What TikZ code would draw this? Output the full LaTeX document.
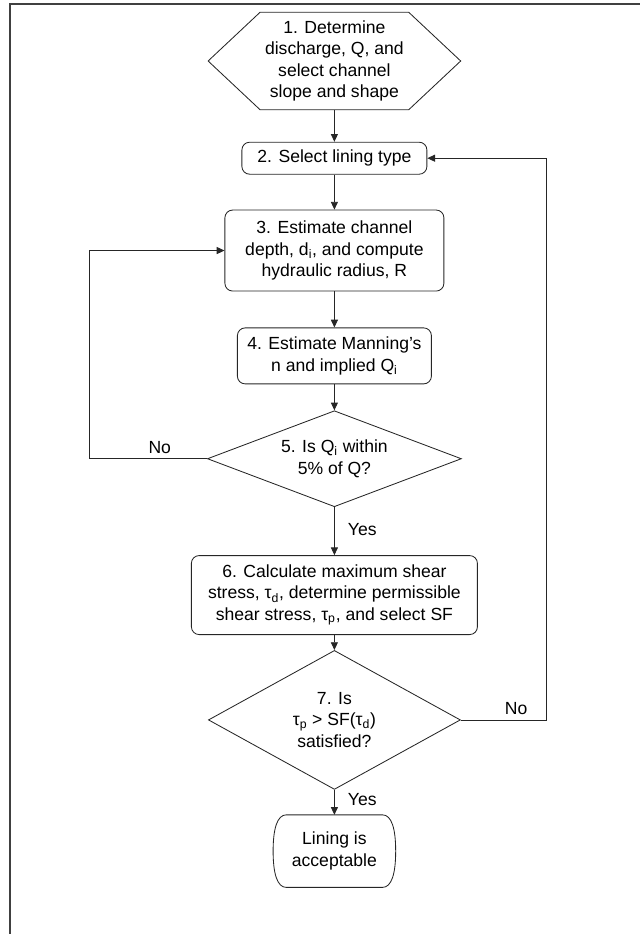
\documentclass[tikz,border=0pt]{standalone}
\usepackage{fontspec}
\setmainfont{Liberation Sans}
\usepackage{tikz}
\usetikzlibrary{positioning,arrows.meta,shapes.geometric,calc}

\begin{document}
\begin{tikzpicture}[
    node distance=0.8cm,
    font=\fontsize{12.5}{15.3}\selectfont,
    line_style/.style={draw=black!85, line width=0.6pt},
    proc_box/.style={line_style, rounded corners=5.5pt, align=center, inner sep=2pt},
    dec_box/.style={line_style, diamond, align=center, inner sep=0pt},
    plain_box/.style={align=center, inner sep=0pt},
    arrow/.style={-{Triangle[length=5.5pt,width=5pt]}, line width=0.6pt, draw=black!85},
    frame_line/.style={line width=1.4pt, draw=black!75}
]

% page frame (top and left edge only)
\useasboundingbox (0,0) rectangle (16,-23.35);
\draw[frame_line] (0.25,-23.35) -- (0.25,-0.1) -- (16,-0.1);

\node (determine) [plain_box, minimum width=6.3cm, minimum height=2.425cm] at (8.36,-1.525)
    {1. Determine\\discharge, Q, and\\select channel\\slope and shape};
\draw[line_style] (determine.west) -- ([xshift=1.3cm]determine.north west)
    -- ([xshift=-1.3cm]determine.north east) -- (determine.east)
    -- ([xshift=-1.3cm]determine.south east) -- ([xshift=1.3cm]determine.south west) -- cycle;

\node (lining) [proc_box, below=0.8cm of determine, minimum width=4.625cm, minimum height=0.8cm]
    {2. Select lining type};

\node (depth) [proc_box, below=0.875cm of lining, minimum width=5.475cm, minimum height=2.025cm]
    {3. Estimate channel\\depth, d\textsubscript{i}, and compute\\hydraulic radius, R};

\node (manning) [proc_box, below=0.9cm of depth, minimum width=4.85cm, minimum height=1.4cm]
    {4. Estimate Manning’s\\n and implied Q\textsubscript{i}};

\node (check_q) [dec_box, aspect=2.65, below=0.65cm of manning, minimum width=6.35cm, minimum height=2.4cm]
    {5. Is Q\textsubscript{i} within\\5\% of Q?};

\node (shear) [proc_box, below=1.2cm of check_q, minimum width=7.15cm, minimum height=1.975cm]
    {6. Calculate maximum shear\\stress, τ\textsubscript{d}, determine permissible\\shear stress, τ\textsubscript{p}, and select SF};

\node (check_sf) [dec_box, aspect=1.81, below=0.375cm of shear, minimum width=6.3cm, minimum height=3.475cm]
    {7. Is\\τ\textsubscript{p} > SF(τ\textsubscript{d})\\satisfied?};

\node (accept) [plain_box, below=0.625cm of check_sf, minimum width=3.05cm, minimum height=1.8cm]
    {Lining is\\acceptable};
\draw[line_style] ([xshift=0.33cm]accept.north west) -- ([xshift=-0.33cm]accept.north east)
    .. controls ([xshift=-0.1cm]accept.north east) and ([yshift=-0.35cm]accept.north east) .. (accept.east)
    .. controls ([yshift=0.35cm]accept.south east) and ([xshift=-0.1cm]accept.south east) ..
    ([xshift=-0.33cm]accept.south east) -- ([xshift=0.33cm]accept.south west)
    .. controls ([xshift=0.1cm]accept.south west) and ([yshift=0.35cm]accept.south west) .. (accept.west)
    .. controls ([yshift=-0.35cm]accept.north west) and ([xshift=0.1cm]accept.north west) .. cycle;

% loop columns
\coordinate (loop_left) at (2.225,0);
\coordinate (loop_right) at (13.65,0);

\draw [arrow] (determine.south) -- (lining.north);
\draw [arrow] (lining.south) -- (depth.north);
\draw [arrow] (depth.south) -- (manning.north);
\draw [arrow] (manning.south) -- (check_q.north);
\draw [arrow] (check_q.west) -- node[above, pos=0.4] {No} (check_q.west -| loop_left) |- (depth.west);
\draw [arrow] (check_q.south) -- node[right, pos=0.46, xshift=6pt] {Yes} (shear.north);
\draw [arrow] (shear.south) -- (check_sf.north);
\draw [arrow] (check_sf.east) -- node[above, pos=0.65] {No} (check_sf.east -| loop_right) |- (lining.east);
\draw [arrow] (check_sf.south) -- node[right, pos=0.4, xshift=6pt] {Yes} (accept.north);

\end{tikzpicture}
\end{document}
